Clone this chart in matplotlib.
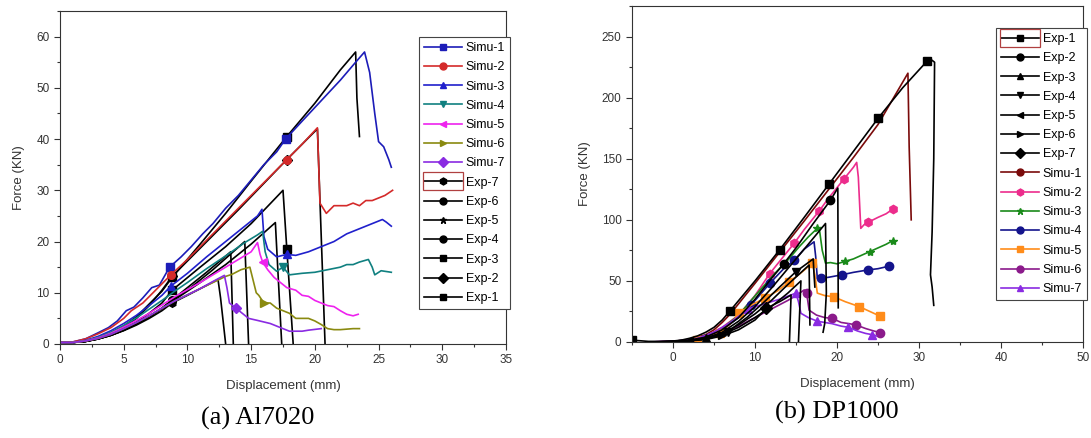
import numpy as np
import matplotlib
matplotlib.use("Agg")
import matplotlib.pyplot as plt
from matplotlib.lines import Line2D
from matplotlib.patches import Rectangle
from matplotlib.ticker import MultipleLocator
from matplotlib.transforms import IdentityTransform

plt.rcParams['font.family'] = ['Liberation Sans', 'DejaVu Sans']

# ---------------- (a) Al7020 : force-displacement curves ----------------
a_simu1_x = [0, 1, 2, 3, 3.8, 4.5, 5.2, 5.8, 6.5, 7.2, 7.8, 8.6, 9.5, 10.3, 11.2, 12, 13, 14, 15, 16, 17, 17.7, 19, 20.5, 22, 23.2, 23.9, 24.3, 24.7, 25.0, 25.4, 25.8, 26.0]
a_simu1_y = [0.3, 0.4, 1.0, 2.2, 3.2, 4.5, 6.5, 7.2, 9, 11, 11.5, 15, 17, 19, 21.5, 23.5, 26.5, 29, 32, 35, 37.5, 40, 43.5, 47.5, 51.5, 55, 57, 53, 45, 39.5, 38.5, 36, 34.5]
a_simu2_x = [0, 1, 2, 3, 4, 5, 5.6, 6.5, 7.5, 8.7, 10, 12, 14, 16, 17.8, 19, 20.2, 20.3, 20.4, 20.9, 21.5, 22.5, 23, 23.5, 24, 24.5, 25.5, 26.1]
a_simu2_y = [0.3, 0.4, 1, 2, 3.2, 5, 6.5, 8, 10.5, 13.5, 16.5, 21.5, 26.5, 31.5, 36, 39, 42.2, 35, 27.5, 25.5, 27, 27, 27.5, 27, 28, 28, 29, 30]
a_simu3_x = [0, 1, 2, 3, 4, 5, 6, 7, 8, 8.7, 10, 11.5, 13, 14.5, 15.5, 15.85, 16.0, 16.3, 17, 17.8, 18.5, 19.5, 20.5, 21.5, 22.5, 23.5, 24.5, 25.3, 25.6, 26.0]
a_simu3_y = [0.3, 0.3, 0.7, 1.5, 2.6, 4, 5.6, 7.5, 9.5, 11.3, 13.8, 17, 20, 23, 25, 26.3, 21, 18.5, 17, 17.5, 17.3, 18, 19, 20, 21.5, 22.5, 23.5, 24.3, 23.8, 23]
a_simu4_x = [0, 1, 2, 3, 4, 5, 6, 7, 8, 9, 10, 11.5, 13, 14.5, 15.5, 15.9, 16.1, 16.4, 17, 17.5, 18, 19, 20, 21, 22, 22.5, 23, 23.5, 24.2, 24.5, 24.7, 25.2, 26]
a_simu4_y = [0.3, 0.3, 0.6, 1.3, 2.3, 3.6, 5.1, 6.8, 8.5, 10.3, 12, 14.7, 17.2, 19.8, 21.3, 22, 18, 15.5, 14.2, 15, 13.5, 13.8, 14, 14.5, 15, 15.5, 15.5, 16, 16.5, 15, 13.5, 14.3, 14]
a_simu5_x = [0, 1, 2, 3, 4, 5, 6, 7, 8, 9, 10, 11, 12, 13, 14, 15, 15.5, 15.7, 15.9, 16.3, 16.8, 17.3, 17.8, 18.5, 19, 19.5, 20, 20.5, 21, 21.5, 22, 22.5, 23, 23.4]
a_simu5_y = [0.3, 0.3, 0.6, 1.2, 2.1, 3.3, 4.6, 6, 7.6, 9.2, 10.6, 12, 13.5, 15, 16.5, 18, 19.8, 17.5, 16, 14.5, 13, 12, 11, 10.5, 9.5, 9.3, 8.5, 8, 7.5, 7.3, 6.5, 5.8, 5.5, 5.8]
a_simu6_x = [0, 1, 2, 3, 4, 5, 6, 7, 8, 9, 10, 11, 12, 13, 13.5, 14.2, 14.9, 15.2, 15.4, 15.6, 16, 16.5, 17, 17.5, 18, 18.5, 19.5, 20, 20.5, 21, 21.5, 22, 23, 23.5]
a_simu6_y = [0.3, 0.3, 0.6, 1.1, 1.9, 3, 4.2, 5.5, 7, 8.4, 9.6, 10.8, 12, 13.2, 13.6, 14.5, 15, 12, 10, 9.5, 8, 8, 7, 6.5, 6, 5, 5, 4.5, 3.8, 3, 2.8, 2.8, 3, 3]
a_simu7_x = [0, 1, 2, 3, 4, 5, 6, 7, 8, 9, 10, 11, 12, 12.9, 13.1, 13.3, 13.8, 14.3, 14.8, 15.5, 16.5, 17.5, 18, 19, 19.5, 20.5]
a_simu7_y = [0.3, 0.3, 0.6, 1.1, 1.9, 3, 4.2, 5.5, 7, 8.4, 9.6, 10.8, 12.2, 13.4, 11, 8, 7, 6, 5, 4.6, 4, 3, 2.5, 2.5, 2.7, 3]

a_exp1_x = [0, 1, 2, 3, 4, 5, 6, 7, 8, 8.8, 11, 13, 15, 17.8, 20, 22, 23.2, 23.3, 23.5]
a_exp1_y = [0.3, 0.3, 0.6, 1.2, 2.2, 3.5, 5.3, 7.8, 10.3, 13, 19.5, 25.5, 31.8, 40.5, 47, 53.5, 57, 48, 40.5]
a_exp2_x = [0, 1, 2, 3, 4, 5, 6, 7, 8, 8.8, 11, 14, 17.8, 20.2, 20.8]
a_exp2_y = [0.3, 0.3, 0.5, 1.1, 2, 3.2, 5, 7.5, 10.5, 13.2, 18.7, 26.2, 36, 42, 0]
a_exp3_x = [0, 1, 2, 3, 4, 5, 6, 7, 8, 8.8, 11, 13, 15, 17.5, 17.8, 18.3]
a_exp3_y = [0.3, 0.3, 0.5, 1, 1.8, 2.9, 4.3, 6, 8, 10.5, 15, 19, 23.5, 30, 18.5, 0]
a_exp4_x = [0, 1, 2, 3, 4, 5, 6, 7, 8, 8.8, 11, 13, 15, 16.9, 17.4]
a_exp4_y = [0.3, 0.3, 0.5, 1, 1.7, 2.7, 3.9, 5.3, 6.9, 8.3, 12, 15.5, 19.5, 23.7, 0]
a_exp5_x = [0, 1, 2, 3, 4, 5, 6, 7, 8, 8.8, 10, 12, 14.5, 14.8]
a_exp5_y = [0.3, 0.3, 0.5, 1, 1.7, 2.7, 3.9, 5.4, 7, 8.5, 10.5, 14.5, 20, 0]
a_exp6_x = [0, 1, 2, 3, 4, 5, 6, 7, 8, 8.8, 10, 11.5, 13.4, 13.6]
a_exp6_y = [0.3, 0.3, 0.5, 1, 1.7, 2.7, 3.9, 5.4, 7, 8.6, 11, 14, 18, 0]
a_exp7_x = [0, 1, 2, 3, 4, 5, 6, 7, 8, 8.8, 10, 11, 12.4, 12.6, 13]
a_exp7_y = [0.3, 0.3, 0.5, 1, 1.7, 2.6, 3.7, 5, 6.5, 8, 9.5, 10.8, 12.6, 9, 0]

# ---------------- (b) DP1000 ----------------
b_exp1_x = [-5, -3, -1, 0, 1, 2, 3, 4, 5, 6, 6.9, 10, 13, 16, 19, 22, 25, 28, 31, 31.5, 31.9, 31.8, 31.6, 31.4, 31.6, 31.8]
b_exp1_y = [1.5, 0.5, 0.5, 0.8, 1.5, 3, 5, 8, 12, 18, 25, 50, 75.4, 102, 129, 156, 183, 208, 230, 231, 229, 150, 90, 55, 45, 30]
b_exp2_x = [-3, 0, 2, 4, 6, 8, 10, 12, 13.5, 15, 17, 19.2, 20.1, 20.15]
b_exp2_y = [0, 0.5, 1.5, 4, 10, 20, 35, 52, 64, 77, 96, 116, 126, 28]
b_exp3_x = [-3, 0, 2, 4, 6, 8, 10, 12, 14, 16, 18.6, 18.7, 18.5, 18.3]
b_exp3_y = [0, 0.3, 1, 3, 8, 17, 29, 44, 60, 76, 97, 40, 15, 8]
b_exp4_x = [-3, 0, 2, 4, 6.7, 9, 11, 13, 15, 17.1, 17.2, 17.3]
b_exp4_y = [0, 0.3, 1, 3, 8.5, 20, 32, 45, 57.6, 68, 55, 45]
b_exp5_x = [-3, 0, 2, 4, 6, 8, 10, 12, 14, 16.6, 16.7]
b_exp5_y = [0, 0.3, 1, 2.5, 7, 14, 23, 34, 47, 63, 14]
b_exp6_x = [-3, 0, 2, 4, 6, 8, 10, 12, 14, 15.6, 15.3]
b_exp6_y = [0, 0.3, 1, 2.5, 6, 12, 20, 29, 40, 50, 0]
b_exp7_x = [-3, 0, 2, 4, 6, 8, 10, 11.4, 13, 14.4, 14.2]
b_exp7_y = [0, 0.3, 1, 2, 5, 10, 18, 27.6, 33, 38.5, 0]

b_simu1_x = [-3, 0, 2, 4, 5, 6, 7, 10, 13, 16, 19, 22, 25, 28.65, 28.8, 29.05]
b_simu1_y = [0, 0.5, 2, 6, 10, 16, 23, 48, 73.5, 99, 125, 151, 178, 220, 160, 100]
b_simu2_x = [-3, 0, 2, 4, 6, 8, 10, 11.8, 13, 14.8, 16, 17.8, 19, 20.8, 22, 22.4, 22.6, 22.9, 23.3, 23.8, 25, 26, 26.8]
b_simu2_y = [0, 0.5, 2, 5, 12, 22, 38, 56, 66, 81, 92, 107, 118, 133, 143, 147, 135, 93, 96, 98, 102, 105, 108.8]
b_simu3_x = [-2, 0, 2, 4, 6, 8, 10.1, 12.4, 14, 15.4, 16.5, 17.6, 17.9, 18.2, 18.6, 19.2, 20, 21, 22, 23, 24, 25, 26, 26.8]
b_simu3_y = [0, 0.5, 2, 5, 11, 22, 38.5, 56, 67, 78, 86, 93, 90, 75, 64.5, 65, 64, 66, 68, 71, 74, 77, 80, 83]
b_simu4_x = [-2, 0, 2, 4, 6, 8, 9.5, 11.8, 13.5, 14.8, 16, 17.2, 17.4, 17.6, 18, 19, 20.6, 22, 23.8, 25, 26.3]
b_simu4_y = [0, 0.5, 2, 5, 10, 20, 30, 48, 60, 67, 76, 82, 70, 52, 52, 53, 55, 57, 59, 60, 62]
b_simu5_x = [-2, 0, 2.9, 4, 5.7, 7, 8.1, 9.5, 11.2, 12.8, 14.2, 15.5, 17.0, 17.3, 17.6, 18.5, 19.6, 21, 22.7, 24, 25.3]
b_simu5_y = [0, 0.5, 1.6, 3.5, 7.6, 15, 23.5, 30, 36, 42, 49.5, 56, 64.5, 55, 40, 38, 37, 33, 29, 25, 21]
b_simu6_x = [-2, 0, 2, 4, 6, 8, 10, 12, 14, 15, 16.0, 16.3, 16.6, 17.5, 18.5, 19.4, 20.5, 21.5, 22.3, 23.5, 24.5, 25.3]
b_simu6_y = [0, 0.3, 1.5, 3.5, 7, 13, 20, 27, 34, 38, 42.6, 40, 26, 22, 20, 19.4, 16, 15, 14, 11, 9, 7.6]
b_simu7_x = [-3, -1, 1, 3, 5, 7, 9.2, 11, 13, 15.0, 15.3, 15.6, 16.5, 17.6, 18.5, 19.4, 20.5, 21.4, 22.5, 23.5, 24.3, 24.8]
b_simu7_y = [0, 0.5, 1, 3, 8, 16, 27, 31, 35, 40, 33, 23.5, 20, 17, 16, 15, 13, 12, 9, 7, 6, 5]

fig = plt.figure(figsize=(10.91, 4.38), dpi=100)
ax1 = fig.add_axes([60/1091, 1-344/438, 446/1091, 333/438])
ax2 = fig.add_axes([632/1091, 1-342/438, 451/1091, 336/438])

def draw(ax, x, y, color, marker, every, ms=5):
    ax.plot(x, y, color=color, lw=1.2, marker=marker, markevery=every,
            ms=ms, mec=color, mfc=color)

# series: (label, x, y, color, marker, marker indices)
a_series = [
    ('Simu-1', a_simu1_x, a_simu1_y, '#1c1cb8', 's', [11, 21]),
    ('Simu-2', a_simu2_x, a_simu2_y, '#d42a2a', 'o', [9, 14]),
    ('Simu-3', a_simu3_x, a_simu3_y, '#2020cc', '^', [9, 19]),
    ('Simu-4', a_simu4_x, a_simu4_y, '#108080', 'v', [19]),
    ('Simu-5', a_simu5_x, a_simu5_y, '#ee22ee', '<', [18]),
    ('Simu-6', a_simu6_x, a_simu6_y, '#8a8a10', '>', [20]),
    ('Simu-7', a_simu7_x, a_simu7_y, '#8a2be2', 'D', [16]),
    ('Exp-7', a_exp7_x, a_exp7_y, 'black', 'h', [9]),
    ('Exp-6', a_exp6_x, a_exp6_y, 'black', 'o', [9]),
    ('Exp-5', a_exp5_x, a_exp5_y, 'black', '*', [9]),
    ('Exp-4', a_exp4_x, a_exp4_y, 'black', 'o', [9]),
    ('Exp-3', a_exp3_x, a_exp3_y, 'black', 's', [9, 14]),
    ('Exp-2', a_exp2_x, a_exp2_y, 'black', 'D', [9, 12]),
    ('Exp-1', a_exp1_x, a_exp1_y, 'black', 's', [9, 13]),
]
b_series = [
    ('Exp-1', b_exp1_x, b_exp1_y, 'black', 's', [0, 10, 12, 14, 16, 18]),
    ('Exp-2', b_exp2_x, b_exp2_y, 'black', 'o', [8, 11]),
    ('Exp-3', b_exp3_x, b_exp3_y, 'black', '^', [3]),
    ('Exp-4', b_exp4_x, b_exp4_y, 'black', 'v', [4, 8]),
    ('Exp-5', b_exp5_x, b_exp5_y, 'black', '<', [2]),
    ('Exp-6', b_exp6_x, b_exp6_y, 'black', '>', [4]),
    ('Exp-7', b_exp7_x, b_exp7_y, 'black', 'D', [7]),
    ('Simu-1', b_simu1_x, b_simu1_y, '#7a0a0a', 'o', []),
    ('Simu-2', b_simu2_x, b_simu2_y, '#ec2c8c', 'h', [7, 9, 11, 13, 19, 22]),
    ('Simu-3', b_simu3_x, b_simu3_y, '#1a8a1a', '*', [11, 17, 20, 23]),
    ('Simu-4', b_simu4_x, b_simu4_y, '#14148c', 'o', [6, 7, 9, 14, 16, 18, 20]),
    ('Simu-5', b_simu5_x, b_simu5_y, '#ff8c1a', 's', [2, 4, 6, 8, 10, 12, 16, 18, 20]),
    ('Simu-6', b_simu6_x, b_simu6_y, '#8b1a8b', 'o', [11, 15, 18, 21]),
    ('Simu-7', b_simu7_x, b_simu7_y, '#8a2be2', '^', [6, 9, 13, 17, 20]),
]

# black experimental curves drawn first, simulations on top (left panel)
for lab, x, y, c, m, ev in a_series[7:] + a_series[:7]:
    draw(ax1, x, y, c, m, ev, ms=5.5)
for lab, x, y, c, m, ev in b_series[7:] + b_series[:7]:
    draw(ax2, x, y, c, m, ev, ms=6)

def proxies(series):
    return [Line2D([], [], color=c, lw=1.2, marker=m, ms=5, mec=c, mfc=c) for _, _, _, c, m, _ in series]

leg_kw = dict(loc='upper right', bbox_transform=fig.transFigure, borderaxespad=0,
              fontsize=9, handlelength=3, labelspacing=0.58, handletextpad=0.3,
              borderpad=0.4, fancybox=False, framealpha=1, edgecolor='#444444')
leg1 = ax1.legend(proxies(a_series), [s[0] for s in a_series],
                  bbox_to_anchor=(510/1091, 1-37/438), **leg_kw)
leg2 = ax2.legend(proxies(b_series), [s[0] for s in b_series],
                  bbox_to_anchor=(1087/1091, 1-28/438), **leg_kw)
for leg in (leg1, leg2):
    leg.get_frame().set_linewidth(0.8)

ax1.set_xlim(0, 35)
ax1.set_ylim(0, 65)
ax1.xaxis.set_major_locator(MultipleLocator(5))
ax1.xaxis.set_minor_locator(MultipleLocator(2.5))
ax1.yaxis.set_major_locator(MultipleLocator(10))
ax1.yaxis.set_minor_locator(MultipleLocator(5))

ax2.set_xlim(-5, 50)
ax2.set_ylim(0, 275)
ax2.xaxis.set_major_locator(MultipleLocator(10))
ax2.xaxis.set_minor_locator(MultipleLocator(5))
ax2.yaxis.set_major_locator(MultipleLocator(50))
ax2.yaxis.set_minor_locator(MultipleLocator(25))

for ax in (ax1, ax2):
    ax.tick_params(which='major', direction='out', length=4, width=0.8, labelsize=8.5,
                   labelcolor='#333333', color='#333333')
    ax.tick_params(which='minor', direction='out', length=2, width=0.8, color='#333333')
    for sp in ax.spines.values():
        sp.set_linewidth(0.8)
        sp.set_color('#333333')
    ax.set_xlabel('Displacement (mm)', fontsize=9.5, color='#333333', labelpad=10)
ax1.set_ylabel('Force (KN)', fontsize=9.5, color='#333333', labelpad=8)
ax2.set_ylabel('Force (KN)', fontsize=9.5, color='#333333', labelpad=8)

fig.text(258/1091, 1-418/438, '(a) Al7020', family=['Liberation Serif', 'DejaVu Serif'],
         fontsize=19, ha='center', va='center')
fig.text(837/1091, 1-412/438, '(b) DP1000', family=['Liberation Serif', 'DejaVu Serif'],
         fontsize=19, ha='center', va='center')

# red selection box around one legend handle, as in the source figure
fig.canvas.draw()
for leg, idx in ((leg1, 7), (leg2, 0)):
    h = leg.legend_handles[idx]
    pts = h.get_transform().transform(h.get_xydata())
    x0, x1 = pts[:, 0].min(), pts[:, 0].max()
    cy = pts[:, 1].mean()
    fig.add_artist(Rectangle((x0 - 1, cy - 9), x1 - x0 + 2, 18, transform=IdentityTransform(),
                             fill=False, ec='#b04040', lw=0.9, zorder=10))

fig.savefig('out.png', dpi=100)
